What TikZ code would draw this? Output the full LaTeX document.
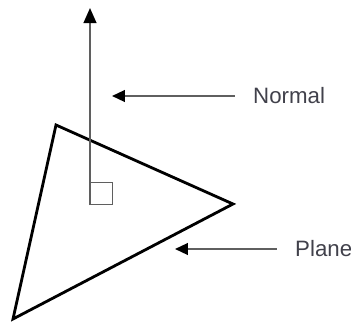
\documentclass[tikz,border=0pt]{standalone}
\usepackage{fontspec}
\setmainfont{Liberation Sans}
\usetikzlibrary{arrows.meta, positioning}
\definecolor{labelgray}{RGB}{65, 65, 75}
\definecolor{linegray}{RGB}{95, 95, 95}

\begin{document}
\begin{tikzpicture}[x=0.03cm, y=0.03cm,
    edge/.style={line width=2.4pt, black, line join=miter},
    pointer/.style={line width=1.5pt, linegray, -{Triangle[length=11pt, width=10pt, black]}},
    tag/.style={anchor=west, inner sep=0pt, text=labelgray, font=\fontsize{19}{22}\selectfont}]
  \useasboundingbox (0,0) rectangle (351,323);
  % plane corners
  \coordinate (top) at (56,198);
  \coordinate (right) at (233,119);
  \coordinate (bottom) at (13,4);
  \draw[edge] (top) -- (right) -- (bottom) -- cycle;
  % normal with right-angle mark
  \node[draw=linegray, line width=1.2pt, minimum size=22*0.03cm, inner sep=0pt,
        anchor=south west] (foot) at (90,118) {};
  \coordinate (tip) at (90,315);
  \draw[line width=1.7pt, linegray, -{Triangle[length=13pt, width=11pt, black]}]
      (foot.south west) -- (tip);
  % labels
  \node[tag] (normal) at (253,227) {Normal};
  \coordinate (normalend) at (112,227);
  \draw[pointer] ([xshift=-18*0.03cm]normal.west) -- (normalend);
  \node[tag] (plane) at (295,74) {Plane};
  \coordinate (planeend) at (175,74);
  \draw[pointer] ([xshift=-18*0.03cm]plane.west) -- (planeend);
\end{tikzpicture}
\end{document}
